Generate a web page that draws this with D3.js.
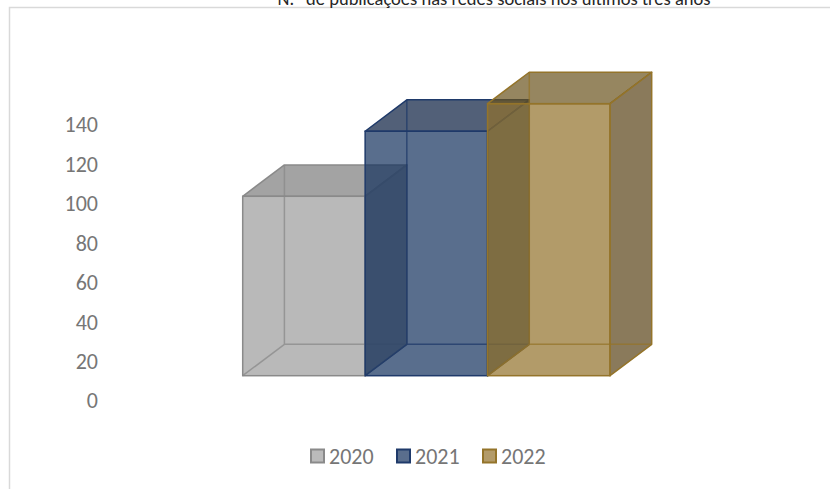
<!DOCTYPE html>
<html><head><meta charset="utf-8">
<script src="https://cdn.jsdelivr.net/npm/d3@7"></script>
<style>html,body{margin:0;padding:0;background:#fff;overflow:hidden}</style>
</head><body>
<svg id="chart" width="830" height="489"></svg>
<script>
const title = "N.º de publicações nas redes sociais nos últimos três anos";
const years = ["2020", "2021", "2022"];
const values = [91, 124, 138];
const yTicks = [0, 20, 40, 60, 80, 100, 120, 140];

// styles (not data)
const frontColors = ["#9b9b9b", "#13305c", "#927029"];
const topColors = ["#7c7c7c", "#091c3e", "#69521c"];
const sideColors = ["#696969", "#092444", "#594216"];
const strokeColors = ["#8a8a8a", "#1f3a6a", "#94742a"];
const legendFill = ["#bbbbbb", "#5a6e8d", "#b39b69"];
const faceOpacity = 0.7;

const svg = d3.select("#chart");
const font = "Carlito, Calibri, Lato, sans-serif";

// frame
svg.append("path").attr("d", "M9.5,489 V7.5 H830").attr("fill", "none")
  .attr("stroke", "#d9d9d9").attr("stroke-width", 1.5);

// title
svg.append("text").attr("x", 494).attr("y", 5).attr("text-anchor", "middle")
  .attr("font-family", font).attr("font-size", 18.5).attr("fill", "#262626").text(title);

// axis scale (labels)
const yAxisScale = d3.scaleLinear().domain([0, 140]).range([400, 124]);
// bar height scale (front face)
const floorY = 375.7;
const yBar = d3.scaleLinear().domain([0, 140]).range([floorY, floorY - 276]);
const x = d3.scaleBand().domain(years).range([242.7, 610]).padding(0);
const dx = 41.7, dy = -31.4;

const axis = d3.axisLeft(yAxisScale).tickValues(yTicks).tickSize(0).tickPadding(0);
const ag = svg.append("g").attr("transform", "translate(98,0)").call(axis);
ag.select(".domain").remove();
ag.selectAll("text").attr("font-family", font).attr("font-size", 22).attr("fill", "#767676")
  .attr("dy", "0.36em");

const pts = a => a.map(p => p.join(",")).join(" ");

years.forEach((yr, i) => {
  const g = svg.append("g");
  const x0 = x(yr), x1 = x(yr) + x.bandwidth();
  const yt = yBar(values[i]), yb = yBar(0);
  // right side
  g.append("polygon").attr("points", pts([[x1, yt], [x1 + dx, yt + dy], [x1 + dx, yb + dy], [x1, yb]]))
    .attr("fill", sideColors[i]).attr("fill-opacity", faceOpacity)
    .attr("stroke", strokeColors[i]).attr("stroke-width", 1.5).attr("stroke-linejoin", "round");
  // top
  g.append("polygon").attr("points", pts([[x0, yt], [x0 + dx, yt + dy], [x1 + dx, yt + dy], [x1, yt]]))
    .attr("fill", topColors[i]).attr("fill-opacity", faceOpacity)
    .attr("stroke", strokeColors[i]).attr("stroke-width", 1.5).attr("stroke-linejoin", "round");
  // front
  g.append("rect").attr("x", x0).attr("y", yt).attr("width", x1 - x0).attr("height", yb - yt)
    .attr("fill", frontColors[i]).attr("fill-opacity", faceOpacity)
    .attr("stroke", strokeColors[i]).attr("stroke-width", 1.5);
  // hidden edges
  g.append("path").attr("d",
    `M${x0 + dx},${yt + dy} V${yb + dy} H${x1 + dx} M${x0},${yb} L${x0 + dx},${yb + dy}`)
    .attr("fill", "none").attr("stroke", strokeColors[i]).attr("stroke-width", 1.5)
    .attr("stroke-opacity", 0.75);
});

// legend
const legendX = [310, 396, 482];
const lg = svg.append("g");
years.forEach((yr, i) => {
  lg.append("rect").attr("x", legendX[i] + 1).attr("y", 449.5).attr("width", 13).attr("height", 13)
    .attr("fill", legendFill[i]).attr("stroke", strokeColors[i]).attr("stroke-width", 2);
  lg.append("text").attr("x", legendX[i] + 19).attr("y", 463.5)
    .attr("font-family", font).attr("font-size", 22).attr("fill", "#767676").text(yr);
});
</script>
</body></html>
